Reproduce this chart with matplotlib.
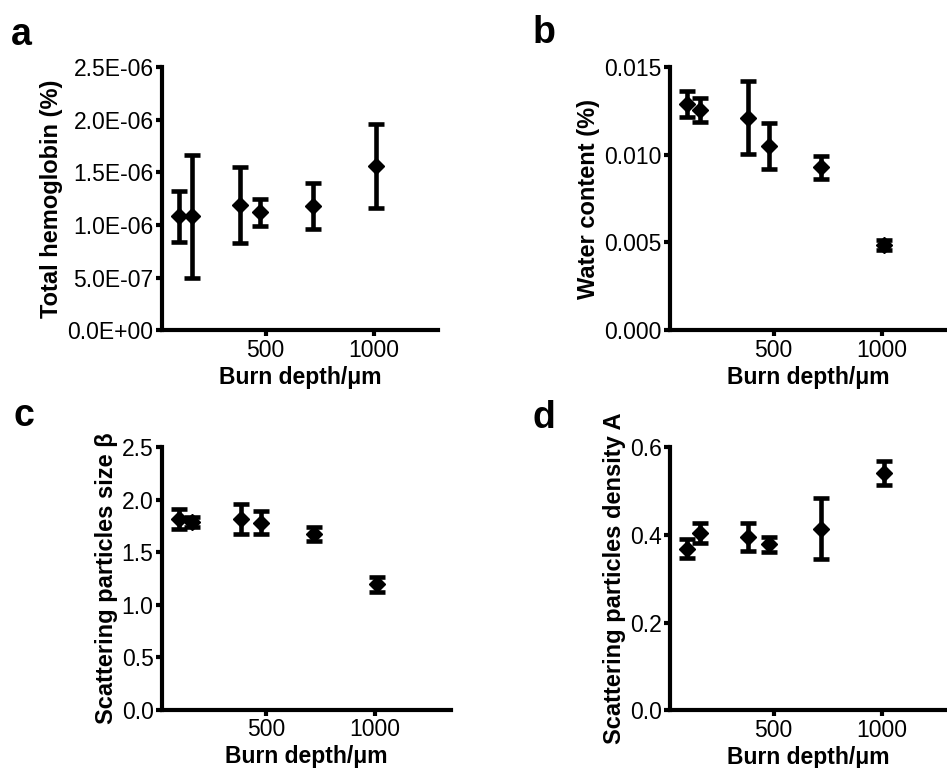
import matplotlib.pyplot as plt
from matplotlib.ticker import FuncFormatter

plt.rcParams['font.family'] = ['Liberation Sans', 'DejaVu Sans']

depth = [100, 160, 382, 476, 720, 1010]

# panel a - total hemoglobin
hb = [1.08e-6, 1.08e-6, 1.19e-6, 1.12e-6, 1.18e-6, 1.56e-6]
hb_err = [0.24e-6, 0.58e-6, 0.36e-6, 0.13e-6, 0.22e-6, 0.40e-6]

# panel b - water content
water = [0.01287, 0.01253, 0.01211, 0.01048, 0.00927, 0.00484]
water_err = [0.00075, 0.00070, 0.00210, 0.00132, 0.00063, 0.00028]

# panel c - scattering size beta
beta = [1.815, 1.790, 1.815, 1.778, 1.675, 1.195]
beta_err = [0.092, 0.048, 0.145, 0.111, 0.068, 0.072]

# panel d - scattering density A
dens = [0.368, 0.404, 0.394, 0.378, 0.414, 0.541]
dens_err = [0.022, 0.022, 0.032, 0.017, 0.069, 0.027]

fig = plt.figure(figsize=(9.47, 7.68), dpi=100)

panels = [
    ('a', [0.171, 0.570, 0.292, 0.343], hb, hb_err, 'Total hemoglobin (%)',
     [0, 0.5e-6, 1.0e-6, 1.5e-6, 2.0e-6, 2.5e-6], lambda v, p: '%.1E' % v, (20, 1300)),
    ('b', [0.7075, 0.570, 0.292, 0.343], water, water_err, 'Water content (%)',
     [0, 0.005, 0.010, 0.015], lambda v, p: '%.3f' % v, (20, 1300)),
    ('c', [0.171, 0.076, 0.305, 0.342], beta, beta_err, 'Scattering particles size β',
     [0, 0.5, 1.0, 1.5, 2.0, 2.5], lambda v, p: '%.1f' % v, (20, 1350)),
    ('d', [0.7075, 0.075, 0.292, 0.343], dens, dens_err, 'Scattering particles density A',
     [0, 0.2, 0.4, 0.6], lambda v, p: '%.1f' % v, (20, 1300)),
]

letter_pos = {'a': (0.012, 0.955), 'b': (0.562, 0.957), 'c': (0.014, 0.458), 'd': (0.562, 0.456)}

for letter, rect, y, yerr, ylab, yt, fmt, xl in panels:
    ax = fig.add_axes(rect)
    ax.errorbar(depth, y, yerr=yerr, fmt='D', color='black', markersize=8,
                elinewidth=3.3, capsize=6, capthick=3.3)
    ax.set_xlim(*xl)
    ax.set_ylim(yt[0], yt[-1])
    ax.set_xticks([500, 1000])
    ax.set_yticks(yt)
    ax.yaxis.set_major_formatter(FuncFormatter(fmt))
    for s in ['top', 'right']:
        ax.spines[s].set_visible(False)
    for s in ['left', 'bottom']:
        ax.spines[s].set_linewidth(3)
    ax.tick_params(width=3, length=4, labelsize=16.5, pad=2)
    ax.set_xlabel('Burn depth/μm', fontsize=16.5, fontweight='bold', labelpad=3)
    ax.set_ylabel(ylab, fontsize=17, fontweight='bold', labelpad=3)
    fig.text(letter_pos[letter][0], letter_pos[letter][1], letter,
             fontsize=27, fontweight='bold', va='center')

fig.savefig('out.png', dpi=100)
